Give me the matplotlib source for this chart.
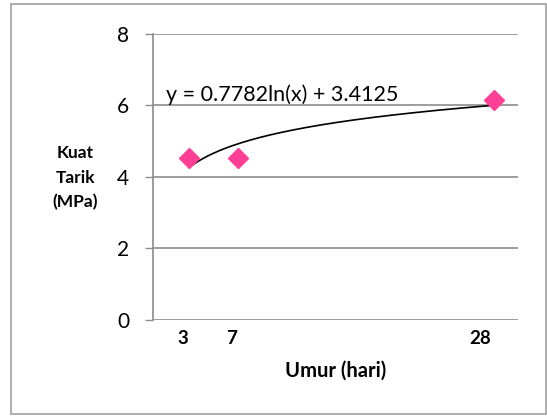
import numpy as np
import matplotlib
matplotlib.use("Agg")
import matplotlib.pyplot as plt
import matplotlib.transforms as mtransforms
from matplotlib.patches import Rectangle

plt.rcParams['font.family'] = ['Lato', 'DejaVu Sans']

# data
umur = [3, 7, 28]
kuat_tarik = [4.52, 4.52, 6.16]
# trendline shown on the chart: y = a ln(x) + b
a_coef = 0.7782
b_coef = 3.4125
y_ticks = [0, 2, 4, 6, 8]

fig = plt.figure(figsize=(5.47, 4.16), dpi=100)
ax = fig.add_axes([0.279, 0.2308, 0.668, 0.6875])

grey = '#8c8c8c'

# trendline
xt = np.linspace(min(umur), max(umur), 200)
ax.plot(xt, a_coef * np.log(xt) + b_coef, color='black', lw=1.2, zorder=3)
ax.plot(umur, kuat_tarik, linestyle='none', marker='D', markersize=10.5,
        color='#ff3f96', zorder=4)

ax.text(1.1, 6.12, 'y = 0.7782ln(x) + 3.4125', fontsize=15.5, va='baseline', ha='left')

ax.set_xlim(0, 30)
ax.set_ylim(0, 8)
ax.set_yticks(y_ticks)
ax.set_xticks(umur)
ax.set_xticklabels([str(u) for u in umur], fontweight='bold', fontsize=13.5)
ax.tick_params(axis='x', length=0, pad=7)
ax.tick_params(axis='y', length=6, color=grey, width=1, pad=11, labelsize=15)

# shift x labels a bit to the left like the original
shifts = [-6, -6, -14]
for lab, s in zip(ax.get_xticklabels(), shifts):
    lab.set_transform(lab.get_transform() + mtransforms.ScaledTranslation(s / 100, 0, fig.dpi_scale_trans))

ax.grid(axis='y', color=grey, lw=1.2)
ax.set_axisbelow(True)
for side in ['top', 'right', 'bottom']:
    ax.spines[side].set_visible(False)
ax.spines['left'].set_color(grey)
ax.spines['left'].set_linewidth(1.2)

ax.set_xlabel('Umur (hari)', fontweight='bold', fontsize=14.5, labelpad=10)
fig.text(75 / 547, 1 - 178 / 416, 'Kuat\nTarik\n(MPa)', fontweight='bold', fontsize=12.5,
         ha='center', va='center', linespacing=1.65)

# outer border
fig.patches.append(Rectangle((11 / 547, 2 / 416), 535 / 547, 410 / 416, transform=fig.transFigure,
                             fill=False, edgecolor='#a0a0a0', lw=1.2))

fig.savefig('out.png', dpi=100)
